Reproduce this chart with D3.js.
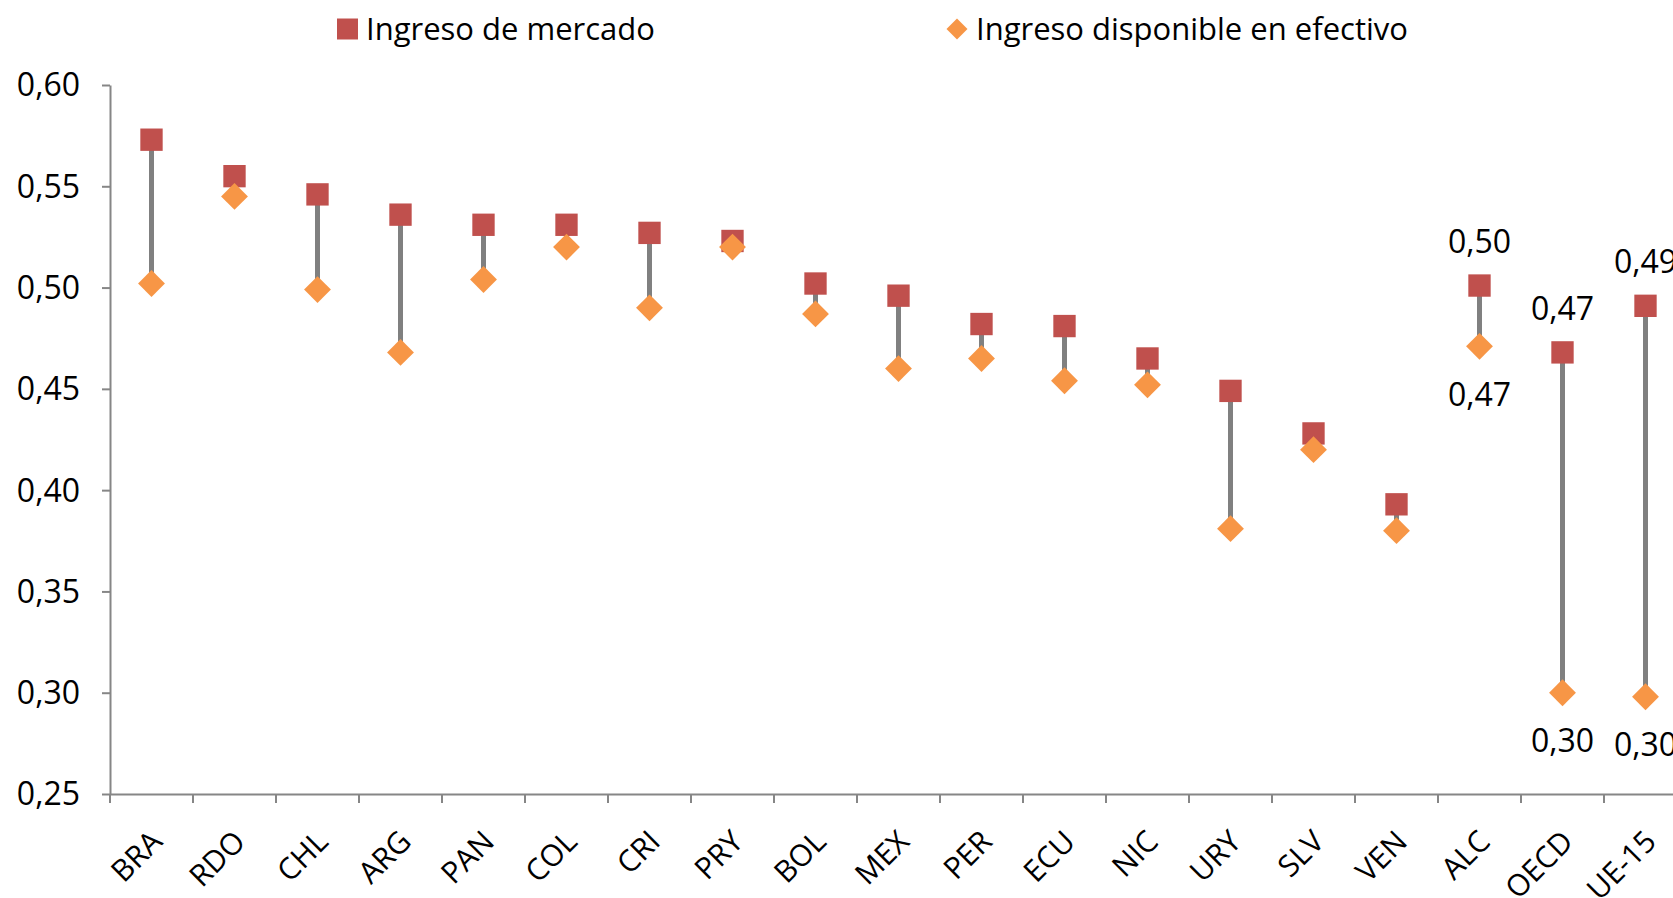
<!DOCTYPE html>
<html>
<head>
<meta charset="utf-8">
<script src="https://cdn.jsdelivr.net/npm/d3@7"></script>
<style>
  html, body { margin: 0; padding: 0; background: #fff; overflow: hidden; }
  #chart { width: 1673px; height: 898px; }
  text { font-family: "Open Sans", sans-serif; fill: #000; }
  .axis path, .axis line { stroke: #868686; stroke-width: 2; }
</style>
</head>
<body>
<div id="chart"></div>
<script>
const categories = ['BRA', 'RDO', 'CHL', 'ARG', 'PAN', 'COL', 'CRI', 'PRY', 'BOL', 'MEX', 'PER', 'ECU', 'NIC', 'URY', 'SLV', 'VEN', 'ALC', 'OECD', 'UE-15'];
const ingresoMercado = [0.573, 0.555, 0.546, 0.536, 0.531, 0.531, 0.527, 0.523, 0.502, 0.496, 0.482, 0.481, 0.465, 0.449, 0.428, 0.393, 0.501, 0.468, 0.491];
const ingresoDisponible = [0.502, 0.545, 0.499, 0.468, 0.504, 0.520, 0.490, 0.520, 0.487, 0.460, 0.465, 0.454, 0.452, 0.381, 0.420, 0.380, 0.471, 0.300, 0.298];
const yTicks = [0.25, 0.30, 0.35, 0.40, 0.45, 0.50, 0.55, 0.60];
const labelled = ['ALC', 'OECD', 'UE-15'];
const seriesNames = ['Ingreso de mercado', 'Ingreso disponible en efectivo'];

const colMercado = '#C0504D';
const colDisponible = '#F79646';

function drawChart() {
    const width = 1673, height = 898;
    const left = 110, top = 85, bottom = 794;
    const band = 83;

    const svg = d3.select('#chart')
        .append('svg')
        .attr('width', width)
        .attr('height', height);

    const data = categories.map((c, i) => ({cat: c, m: ingresoMercado[i], d: ingresoDisponible[i]}));

    const x = d3.scaleBand()
        .domain(categories)
        .range([left, left + band * categories.length]);
    const y = d3.scaleLinear()
        .domain([0.25, 0.60])
        .range([bottom, top]);

    const fmt = v => d3.format('.2f')(v).replace('.', ',');

    // y axis
    const yAxis = svg.append('g')
        .attr('class', 'axis')
        .attr('transform', `translate(${left},0)`)
        .call(d3.axisLeft(y).tickValues(yTicks).tickSize(8).tickSizeOuter(0).tickPadding(22).tickFormat(fmt));
    yAxis.selectAll('text').style('font-size', '32px').attr('dy', '0.34em');

    // x axis
    const xAxis = svg.append('g')
        .attr('class', 'axis')
        .attr('transform', `translate(0,${bottom})`)
        .call(d3.axisBottom(x).tickSize(0).tickSizeOuter(0).tickFormat(''));
    xAxis.selectAll('.xtick')
        .data(d3.range(categories.length + 1))
        .join('line')
        .attr('x1', i => left + band * i)
        .attr('x2', i => left + band * i)
        .attr('y1', 0)
        .attr('y2', 9);

    // category labels, rotated
    svg.selectAll('.catLabel')
        .data(categories)
        .join('text')
        .attr('class', 'catLabel')
        .attr('text-anchor', 'end')
        .attr('dy', '0.35em')
        .attr('transform', d => `translate(${x(d) + x.bandwidth() / 2 + 5},${bottom + 42}) rotate(-45)`)
        .style('font-size', '30px')
        .text(d => d);

    const cx = d => x(d.cat) + x.bandwidth() / 2;

    // connectors
    svg.selectAll('.connector')
        .data(data)
        .join('line')
        .attr('class', 'connector')
        .attr('x1', cx).attr('x2', cx)
        .attr('y1', d => y(d.m))
        .attr('y2', d => y(d.d))
        .attr('stroke', '#808080')
        .attr('stroke-width', 5);

    const square = d3.symbol().type(d3.symbolSquare).size(500);
    const diamond = d3.symbol().type(d3.symbolSquare).size(360);

    svg.selectAll('.mercado')
        .data(data)
        .join('path')
        .attr('class', 'mercado')
        .attr('d', square)
        .attr('transform', d => `translate(${cx(d)},${y(d.m)})`)
        .attr('fill', colMercado);

    svg.selectAll('.disponible')
        .data(data)
        .join('path')
        .attr('class', 'disponible')
        .attr('d', diamond)
        .attr('transform', d => `translate(${cx(d)},${y(d.d)}) rotate(45)`)
        .attr('fill', colDisponible);

    // value labels for aggregates
    const agg = data.filter(d => labelled.includes(d.cat));
    svg.selectAll('.labTop')
        .data(agg)
        .join('text')
        .attr('class', 'labTop')
        .attr('x', cx)
        .attr('y', d => y(d.m) - 44)
        .attr('dy', '0.35em')
        .attr('text-anchor', 'middle')
        .style('font-size', '32px')
        .text(d => fmt(d.m));
    svg.selectAll('.labBottom')
        .data(agg)
        .join('text')
        .attr('class', 'labBottom')
        .attr('x', cx)
        .attr('y', d => y(d.d) + 48)
        .attr('dy', '0.35em')
        .attr('text-anchor', 'middle')
        .style('font-size', '32px')
        .text(d => fmt(d.d));

    // legend
    const legend = svg.append('g');
    legend.append('path')
        .attr('d', d3.symbol().type(d3.symbolSquare).size(441))
        .attr('transform', 'translate(347.5,29)')
        .attr('fill', colMercado);
    legend.append('text')
        .attr('x', 366).attr('y', 29).attr('dy', '0.35em')
        .style('font-size', '31px')
        .text(seriesNames[0]);
    legend.append('path')
        .attr('d', d3.symbol().type(d3.symbolSquare).size(220))
        .attr('transform', 'translate(957,29) rotate(45)')
        .attr('fill', colDisponible);
    legend.append('text')
        .attr('x', 976).attr('y', 29).attr('dy', '0.35em')
        .style('font-size', '31px')
        .text(seriesNames[1]);
}

drawChart();
</script>
</body>
</html>
